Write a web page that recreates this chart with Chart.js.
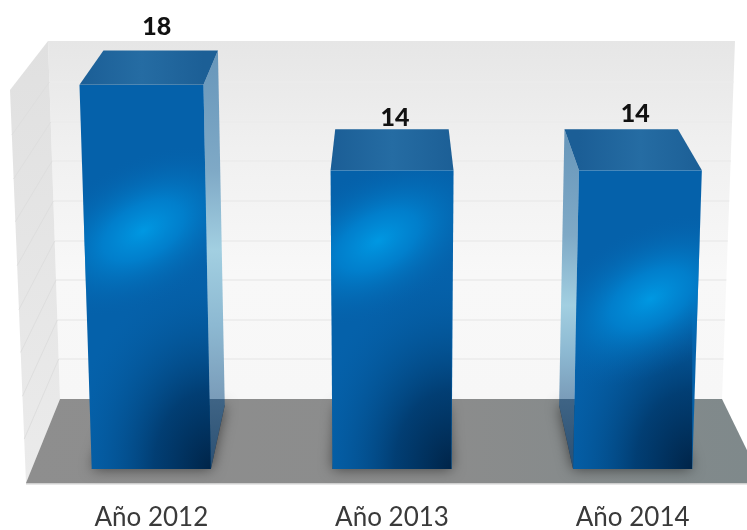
<!DOCTYPE html>
<html lang="es">
<head>
<meta charset="utf-8">
<title>Informe anual</title>
<style>
    html, body { margin: 0; background: #fff; overflow: hidden; }
    #chartAnual { display: block; }
</style>
<script src="https://cdn.jsdelivr.net/npm/chart.js@4"></script>
</head>
<body>
<canvas id="chartAnual" width="753" height="530"></canvas>
<script>
'use strict';

// ─── Datos ────────────────────────────────────────────────────────────────────
const ANYOS   = ['Año 2012', 'Año 2013', 'Año 2014'];
const VALORES = [18, 14, 14];
const LINEAS_PARED = [2, 4, 6, 8, 10, 12, 14, 16];

// ─── Perspectiva ──────────────────────────────────────────────────────────────
const FUGA_X = 391;
const FUGA_Y = -360;
const FONDO_BARRA = 0.077;   // profundidad de la barra hacia el punto de fuga
const APERTURA    = 1.07e-4; // las barras se abren según ganan altura

// Brillo de cada barra: desplazamiento desde el centro y altura sobre la base
const BRILLOS = [
    { dx: -8,  alto: 238 },
    { dx: -14, alto: 228 },
    { dx: 18,  alto: 170 },
];
// Ajuste de la etiqueta de valor respecto al borde trasero de la barra
const ETIQUETAS = [
    { dx: -4, dy: -24 },
    { dx: 3,  dy: -11 },
    { dx: 14, dy: -15 },
];

function frente(x, base, y) {
    return { x: FUGA_X + (x - FUGA_X) * (1 + APERTURA * (base - y)), y: y };
}

function atras(p) {
    return { x: p.x + (FUGA_X - p.x) * FONDO_BARRA, y: p.y + (FUGA_Y - p.y) * FONDO_BARRA };
}

function poligono(ctx, puntos) {
    ctx.beginPath();
    puntos.forEach(function (p, i) {
        if (i === 0) ctx.moveTo(p.x, p.y); else ctx.lineTo(p.x, p.y);
    });
    ctx.closePath();
}

// ─── Habitación: pared, lateral y suelo ───────────────────────────────────────
function dibujarEscena(chart) {
    const ctx = chart.ctx;
    const yPared = chart.scales.yPared;
    const suelo = yPared.getPixelForValue(0);

    const pared = ctx.createLinearGradient(0, 41, 0, suelo);
    pared.addColorStop(0, '#e6e6e6');
    pared.addColorStop(0.3, '#f0f0f0');
    pared.addColorStop(0.65, '#f8f8f8');
    pared.addColorStop(1, '#f7f7f7');
    poligono(ctx, [{ x: 48, y: 41 }, { x: 735, y: 41 }, { x: 722, y: suelo }, { x: 60, y: suelo }]);
    ctx.fillStyle = pared;
    ctx.fill();

    const lateral = ctx.createLinearGradient(0, 41, 0, 483);
    lateral.addColorStop(0, '#e0e0e0');
    lateral.addColorStop(1, '#ebebeb');
    poligono(ctx, [{ x: 48, y: 41 }, { x: 10, y: 90 }, { x: 26, y: 483 }, { x: 60, y: suelo }]);
    ctx.fillStyle = lateral;
    ctx.fill();

    // Líneas de la pared de fondo y su continuación por el lateral
    LINEAS_PARED.forEach(function (v) {
        const y = Math.round(yPared.getPixelForValue(v));
        const t = (y - 41) / (suelo - 41);
        const xFondo = 48 + 12 * t;
        ctx.strokeStyle = '#ebebeb';
        ctx.lineWidth = 1.6;
        ctx.beginPath();
        ctx.moveTo(xFondo, y);
        ctx.lineTo(735 - 13 * t, y);
        ctx.stroke();
        ctx.strokeStyle = '#dedede';
        ctx.lineWidth = 1;
        ctx.beginPath();
        ctx.moveTo(xFondo, y);
        ctx.lineTo(10 + 16 * t, y + 49 + 35 * t);
        ctx.stroke();
    });

    const gris = ctx.createLinearGradient(26, 0, 747, 0);
    gris.addColorStop(0, '#8e8e8e');
    gris.addColorStop(0.6, '#8b8c8c');
    gris.addColorStop(1, '#7f898b');
    poligono(ctx, [{ x: 60, y: suelo }, { x: 722, y: suelo }, { x: 763, y: 483 }, { x: 26, y: 483 }]);
    ctx.fillStyle = gris;
    ctx.fill();

    ctx.fillStyle = '#cfcfcf';
    ctx.fillRect(26, 483, 721, 1.5);
    return suelo;
}

// ─── Una barra en tres caras ──────────────────────────────────────────────────
function dibujarBarra(chart, barra, i, suelo) {
    const ctx = chart.ctx;
    const medio = barra.width / 2;
    const base = barra.base;
    const aIzq = frente(barra.x - medio, base, barra.y);
    const aDer = frente(barra.x + medio, base, barra.y);
    const bIzq = { x: barra.x - medio, y: base };
    const bDer = { x: barra.x + medio, y: base };
    const tIzq = atras(aIzq);
    const tDer = atras(aDer);

    // Sombra sobre el suelo
    ctx.save();
    ctx.shadowColor = 'rgba(0, 0, 0, 0.55)';
    ctx.shadowBlur = 14;
    ctx.fillStyle = '#333';
    poligono(ctx, [bIzq, bDer, atras(bDer), atras(bIzq)]);
    ctx.fill();
    ctx.restore();

    // Cara lateral: solo se ve si la barra queda a un lado del punto de fuga
    let lado = null;
    if (bDer.x < FUGA_X) lado = [aDer, tDer, atras(bDer), bDer];
    if (bIzq.x > FUGA_X) lado = [aIzq, tIzq, atras(bIzq), bIzq];
    if (lado) {
        const arriba = tIzq.y;
        const alto = base - arriba;
        const claro = ((i === 0 ? 250 : 305) - arriba) / alto;
        const corte = (suelo - arriba) / alto;
        const g = ctx.createLinearGradient(0, arriba, 0, base);
        g.addColorStop(0, '#6796ba');
        g.addColorStop(claro * 0.6, '#7fa9c6');
        g.addColorStop(claro, '#a2cfe1');
        g.addColorStop(claro + (corte - claro) * 0.5, '#8db9d2');
        g.addColorStop(corte, '#7a9cb9');
        g.addColorStop(corte + 0.001, '#3f6485');
        g.addColorStop(1, '#2a4f72');
        poligono(ctx, lado);
        ctx.fillStyle = g;
        ctx.fill();
    }

    // Cara superior
    const tapa = ctx.createLinearGradient(aIzq.x, 0, aDer.x, 0);
    tapa.addColorStop(0, '#1b5e96');
    tapa.addColorStop(0.5, '#256ca3');
    tapa.addColorStop(1, '#1c5f96');
    poligono(ctx, [aIzq, tIzq, tDer, aDer]);
    ctx.fillStyle = tapa;
    ctx.fill();

    // Cara frontal con brillo y esquina oscura
    ctx.save();
    poligono(ctx, [aIzq, aDer, bDer, bIzq]);
    ctx.clip();
    ctx.fillStyle = '#0561aa';
    ctx.fillRect(aIzq.x - 20, barra.y, barra.width + 50, base - barra.y);

    ctx.save();
    ctx.translate(bDer.x, base);
    ctx.scale(0.95, 1.3);
    const oscuro = ctx.createRadialGradient(0, 0, 0, 0, 0, 150);
    oscuro.addColorStop(0, 'rgba(0, 36, 72, 1)');
    oscuro.addColorStop(0.4, 'rgba(1, 56, 106, 0.85)');
    oscuro.addColorStop(1, 'rgba(4, 92, 162, 0)');
    ctx.fillStyle = oscuro;
    ctx.fillRect(-300, -300, 300, 300);
    ctx.restore();

    ctx.save();
    ctx.translate(barra.x + BRILLOS[i].dx, base - BRILLOS[i].alto);
    ctx.rotate(-0.5);
    ctx.scale(1, 0.58);
    const luz = ctx.createRadialGradient(0, 0, 0, 0, 0, 125);
    luz.addColorStop(0, 'rgba(0, 152, 226, 1)');
    luz.addColorStop(0.35, 'rgba(0, 134, 212, 0.8)');
    luz.addColorStop(1, 'rgba(5, 96, 169, 0)');
    ctx.fillStyle = luz;
    ctx.fillRect(-300, -300, 600, 600);
    ctx.restore();
    ctx.restore();

    // Etiqueta de valor
    ctx.fillStyle = '#111';
    ctx.font = '900 25px Lato, sans-serif';
    ctx.textAlign = 'center';
    ctx.textBaseline = 'middle';
    ctx.fillText(
        VALORES[i],
        (tIzq.x + tDer.x) / 2 + ETIQUETAS[i].dx,
        tIzq.y + ETIQUETAS[i].dy
    );
}

const barras3d = {
    id: 'barras3d',
    beforeDatasetsDraw: function (chart) {
        const suelo = dibujarEscena(chart);
        chart.getDatasetMeta(0).data.forEach(function (barra, i) {
            dibujarBarra(chart, barra, i, suelo);
        });
        return false; // las caras ya están pintadas
    },
};

// ─── Gráfico ──────────────────────────────────────────────────────────────────
new Chart(document.getElementById('chartAnual').getContext('2d'), {
    type: 'bar',
    data: {
        labels: ANYOS,
        datasets: [{
            data: VALORES,
            backgroundColor: '#0561aa',
            categoryPercentage: 1,
            barPercentage: 0.495,
        }],
    },
    options: {
        responsive: false,
        animation: false,
        layout: { padding: { left: 31, right: 0, top: 6, bottom: 0 } },
        plugins: { legend: { display: false }, tooltip: { enabled: false } },
        scales: {
            x: {
                grid: { display: false, drawTicks: false },
                border: { display: false },
                afterFit: function (scale) { scale.height = 61; },
                ticks: {
                    padding: 33,
                    maxRotation: 0,
                    color: '#3a3a3a',
                    font: { family: 'Lato, sans-serif', size: 26 },
                },
            },
            y: { display: false, min: 0, max: 21.69 },
            yPared: { display: false, min: -3.535, max: 19.85 },
        },
    },
    plugins: [barras3d],
});
</script>
</body>
</html>
